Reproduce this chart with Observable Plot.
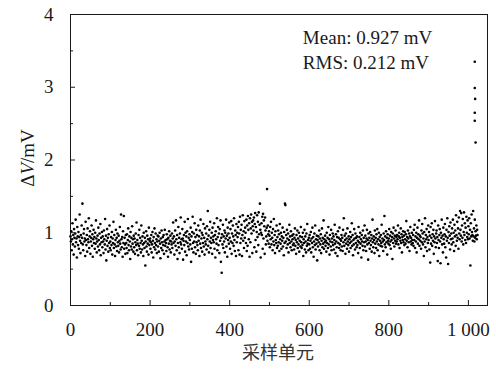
<!DOCTYPE html>
<html><head><meta charset="utf-8">
<script src="https://cdn.jsdelivr.net/npm/d3@7"></script>
<script src="https://cdn.jsdelivr.net/npm/@observablehq/plot@0.6"></script>
<style>body{margin:0;background:#fff}</style></head>
<body><div id="c"></div>
<script>
// ΔV per sampling unit, in hundredths of mV (index = sample unit)
const dvHundredths = [
95,88,102,76,91,113,84,97,70,105,93,81,99,118,87,92,66,108,95,83,
101,78,94,125,89,72,97,86,110,93,140,84,76,99,105,88,92,68,115,90,
83,97,74,106,91,87,120,79,95,102,71,88,93,110,82,98,67,91,104,86,
94,78,100,85,117,92,73,88,96,81,107,90,76,99,84,112,69,93,87,101,
80,95,88,72,103,91,84,119,77,96,62,89,105,82,93,74,98,86,110,79,
88,76,94,83,101,70,92,86,115,79,97,84,68,90,104,81,93,75,99,87,
82,96,73,89,108,85,77,125,91,80,94,67,102,86,123,78,93,84,71,97,
86,79,98,72,90,106,83,76,95,88,64,101,81,93,77,109,85,91,74,96,
80,92,71,87,99,83,114,76,90,85,69,97,82,104,78,93,86,73,110,89,
77,95,84,68,100,86,79,93,55,88,102,81,74,96,85,91,70,107,83,89,
92,78,87,97,73,84,101,89,66,94,80,106,86,77,99,83,91,72,88,96,
81,95,74,89,100,85,65,92,79,103,87,76,94,83,97,71,88,104,82,90,
86,75,98,91,80,67,93,85,102,77,89,96,73,88,84,99,79,92,114,86,
95,70,88,103,82,117,91,76,97,64,86,108,80,93,72,99,87,121,84,91,
78,105,92,63,89,97,83,115,74,100,88,95,69,102,86,119,81,93,77,98,
90,84,107,60,95,78,101,122,86,73,99,88,113,80,94,71,104,87,97,83,
76,110,89,95,68,103,85,118,79,92,100,74,97,86,112,81,93,70,106,88,
84,99,77,109,91,130,82,96,73,104,88,115,79,93,86,100,71,107,90,95,
87,113,78,97,66,102,91,85,120,76,94,108,83,99,72,105,89,117,60,93,
45,98,84,111,79,95,88,103,73,100,92,118,81,96,67,107,90,99,85,114,
93,78,105,88,116,71,99,86,110,95,82,120,90,75,103,97,68,112,87,100,
94,108,76,115,99,70,122,86,104,92,111,68,97,124,89,102,79,116,93,107,
100,86,118,75,110,82,123,104,91,113,67,120,87,106,125,99,115,72,109,117,
103,121,80,112,127,90,108,74,101,124,94,115,83,128,98,111,140,104,66,100,
113,97,122,78,126,92,117,109,71,121,103,84,95,107,160,89,110,98,85,102,
96,80,108,91,115,84,100,93,76,105,88,119,83,97,72,102,90,86,110,79,
94,82,103,87,98,75,112,91,85,100,78,95,89,107,81,93,69,101,86,140,
138,88,97,79,104,92,84,99,73,90,111,86,95,80,102,88,76,96,91,83,
98,85,77,93,106,82,90,71,97,87,103,79,92,84,100,74,89,95,81,108,
87,79,94,83,100,68,91,86,104,77,95,88,73,99,82,112,85,90,76,93,
84,97,78,89,101,73,92,86,107,80,94,67,88,99,83,110,77,91,85,96,
62,90,81,95,87,103,76,92,84,98,72,89,106,80,93,85,117,78,91,87,
96,82,89,74,100,86,93,79,108,84,91,70,97,88,81,104,76,92,87,99,
83,95,77,90,111,85,72,98,88,80,94,68,102,86,93,79,107,84,91,76,
89,97,81,93,75,104,87,120,82,96,90,71,99,85,92,78,106,88,83,95,
74,91,86,101,79,94,88,113,82,97,69,90,84,105,92,77,99,86,93,80,
95,83,89,72,108,87,94,79,100,85,91,66,97,88,82,103,76,93,87,110,
81,96,88,75,92,104,84,90,63,99,86,93,78,101,89,83,97,74,92,118,
87,80,95,90,72,103,85,93,79,98,88,105,76,91,84,100,68,94,89,82,
97,86,111,81,92,88,75,99,90,123,84,95,80,102,87,93,70,98,89,85,
92,105,83,96,88,78,101,90,94,64,99,86,107,92,81,96,89,103,85,94,
88,97,91,110,84,95,100,79,93,89,106,86,98,73,94,90,102,87,96,83,
101,91,85,98,116,89,94,80,103,92,87,99,75,95,108,88,93,84,100,90,
86,97,82,104,90,111,79,95,88,100,73,93,107,85,98,91,117,82,96,89,
94,78,103,87,112,99,84,92,68,101,88,120,80,97,91,105,75,94,86,110,
90,101,77,96,59,108,85,93,113,82,98,89,104,71,95,87,116,92,80,99,
103,86,94,61,110,90,79,97,105,88,58,100,93,118,84,96,73,107,91,85,
98,112,80,95,66,104,89,120,93,57,101,86,109,96,77,114,91,99,84,106,
92,118,87,100,75,111,95,103,82,124,97,89,115,93,106,78,121,99,91,130,
104,96,127,88,110,93,119,84,101,128,97,113,90,107,86,122,100,94,117,91,
109,98,120,92,104,55,113,95,125,101,97,89,130,95,106,88,118,93,102,96,
110,91,104,97
];
// isolated high readings at the end of the record
const spikeUnits = [1016, 1016, 1017, 1016, 1016, 1018];
const spikeDV = [3.35, 2.99, 2.84, 2.65, 2.54, 2.24];

const xMajorTicks = [0, 200, 400, 600, 800, 1000];
const xMinorTicks = [100, 300, 500, 700, 900];
const xTickLabels = {0: "0", 200: "200", 400: "400", 600: "600", 800: "800", 1000: "1 000"};
const yMajorTicks = [0, 1, 2, 3, 4];
const yMinorTicks = [0.5, 1.5, 2.5, 3.5];
const yTickLabels = {0: "0", 1: "1", 2: "2", 3: "3", 4: "4"};
const statLines = ["Mean: 0.927 mV", "RMS: 0.212 mV"];
const xTitle = "采样单元";
const yTitleParts = ["Δ", "V", "/mV"];

const points = dvHundredths.map((v, i) => ({unit: i, dv: v / 100}))
  .concat(spikeUnits.map((u, i) => ({unit: u, dv: spikeDV[i]})));

const ink = "#1a1a1a";
const chart = Plot.plot({
  width: 496, height: 371,
  marginLeft: 70, marginRight: 9, marginTop: 14, marginBottom: 66,
  x: {domain: [0, 1048]},
  y: {domain: [0, 4]},
  style: {fontFamily: "'Liberation Serif', 'Times New Roman', serif", fontSize: "19px", color: ink, background: "#fff"},
  marks: [
    Plot.frame({stroke: ink, strokeWidth: 1}),
    Plot.axisX({ticks: xMajorTicks, tickSize: -5, tickPadding: 22, tickFormat: d => xTickLabels[d] ?? "", label: null, fontSize: 19}),
    Plot.axisX({ticks: xMinorTicks, tickSize: -3, tickFormat: () => "", label: null}),
    Plot.axisY({ticks: yMajorTicks, tickSize: -5, tickPadding: 22, tickFormat: d => yTickLabels[d] ?? "", label: null, fontSize: 19}),
    Plot.axisY({ticks: yMinorTicks, tickSize: -3, tickFormat: () => "", label: null}),
    Plot.dot(points, {x: "unit", y: "dv", r: 1.3, fill: "#000", stroke: null}),
    Plot.text([statLines.join("\n")], {x: 584, y: 3.84, text: d => d, textAnchor: "start", lineAnchor: "top", lineHeight: 1.32, fontSize: 19, fill: ink})
  ]
});

const svg = d3.select(chart);
const yt = svg.append("text")
  .attr("transform", "translate(27,158) rotate(-90)")
  .attr("text-anchor", "middle").attr("dominant-baseline", "central")
  .attr("font-family", "'Liberation Serif', serif").attr("font-size", 19).attr("fill", ink);
yt.append("tspan").text(yTitleParts[0]);
yt.append("tspan").attr("font-style", "italic").text(yTitleParts[1]);
yt.append("tspan").text(yTitleParts[2]);
svg.append("text")
  .attr("x", 278).attr("y", 351)
  .attr("text-anchor", "middle").attr("dominant-baseline", "central")
  .attr("font-family", "'Noto Sans CJK SC', sans-serif").attr("font-size", 18).attr("fill", "#333")
  .text(xTitle);
document.getElementById("c").appendChild(chart);
</script>
</body></html>
